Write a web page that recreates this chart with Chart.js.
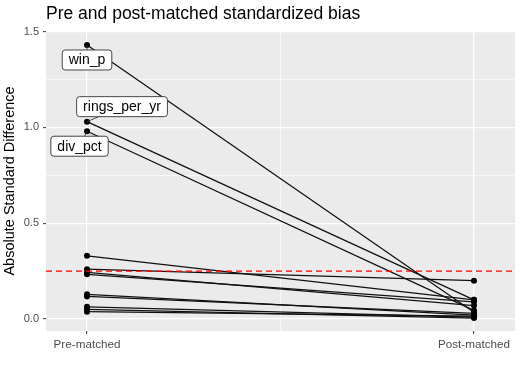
<!DOCTYPE html>
<html>
<head>
<meta charset="utf-8">
<script src="https://cdn.jsdelivr.net/npm/chart.js@4.4.1/dist/chart.umd.min.js"></script>
<style>
  html, body { margin: 0; padding: 0; background: #fff; }
  canvas { display: block; }
</style>
</head>
<body>
<canvas id="biasChart" width="520" height="367"></canvas>
<script>
// covariates, absolute standardized difference before / after matching
const variables = ["win_p", "rings_per_yr", "div_pct", "cov_4", "cov_5", "cov_6",
  "cov_7", "cov_8", "cov_9", "cov_10", "cov_11", "cov_12"];
const preMatched = [1.43, 1.03, 0.98, 0.33, 0.26, 0.243, 0.233, 0.129, 0.118, 0.064, 0.05, 0.038];
const postMatched = [0.035, 0.10, 0.045, 0.10, 0.20, 0.07, 0.09, 0.02, 0.03, 0.01, 0.005, 0.015];
const labelled = ["win_p", "rings_per_yr", "div_pct"];
const xTickLabels = ["Pre-matched", "Post-matched"];
const yTicks = [0, 0.25, 0.5, 0.75, 1, 1.25, 1.5];
const threshold = 0.25;

// where each label box sits relative to its point (px)
const labelOffset = {
  win_p: [0, 15],
  rings_per_yr: [35, -15],
  div_pct: [-7.5, 15]
};

const FONT = "'Liberation Sans', Arial, sans-serif";
const isMajor = v => Math.abs(v * 2 - Math.round(v * 2)) < 1e-9;

const panelBg = {
  id: "panelBg",
  beforeDraw(chart) {
    const { ctx, chartArea: a } = chart;
    ctx.save();
    ctx.fillStyle = "#ebebeb";
    ctx.fillRect(a.left, a.top, a.right - a.left, a.bottom - a.top);
    ctx.restore();
  }
};

const extras = {
  id: "extras",
  afterDatasetsDraw(chart) {
    const { ctx, chartArea: a, scales } = chart;
    // threshold line
    const yy = scales.y.getPixelForValue(threshold);
    ctx.save();
    ctx.strokeStyle = "#ff0000";
    ctx.lineWidth = 1.2;
    ctx.setLineDash([6, 4]);
    ctx.beginPath();
    ctx.moveTo(a.left, yy);
    ctx.lineTo(a.right, yy);
    ctx.stroke();
    ctx.setLineDash([]);

    // repelled labels
    ctx.font = "14px " + FONT;
    ctx.textAlign = "center";
    ctx.textBaseline = "middle";
    labelled.forEach(name => {
      const i = variables.indexOf(name);
      const pt = chart.getDatasetMeta(i).data[0];
      const [dx, dy] = labelOffset[name];
      const cx = pt.x + dx, cy = pt.y + dy;
      const w = ctx.measureText(name).width + 13, h = 20;
      ctx.strokeStyle = "#333";
      ctx.lineWidth = 0.9;
      ctx.beginPath();
      ctx.moveTo(pt.x, pt.y);
      ctx.lineTo(cx, cy);
      ctx.stroke();
      ctx.beginPath();
      ctx.roundRect(cx - w / 2, cy - h / 2, w, h, 3);
      ctx.fillStyle = "#fff";
      ctx.fill();
      ctx.stroke();
      ctx.fillStyle = "#000";
      ctx.fillText(name, cx, cy + 0.5);
    });
    ctx.restore();
  },
  afterDraw(chart) {
    const { ctx, chartArea: a } = chart;
    ctx.save();
    ctx.fillStyle = "#000";
    ctx.font = "17.5px " + FONT;
    ctx.textAlign = "left";
    ctx.textBaseline = "alphabetic";
    ctx.fillText("Pre and post-matched standardized bias", a.left, 19);

    ctx.font = "14.5px " + FONT;
    ctx.textAlign = "center";
    ctx.textBaseline = "middle";
    ctx.translate(10, (a.top + a.bottom) / 2);
    ctx.rotate(-Math.PI / 2);
    ctx.fillText("Absolute Standard Difference", 0, 0);
    ctx.restore();
  }
};

const datasets = variables.map((name, i) => ({
  label: name,
  data: [{ x: 0, y: preMatched[i] }, { x: 1, y: postMatched[i] }],
  showLine: true,
  borderColor: "#111",
  borderWidth: 1.25,
  pointRadius: 3,
  pointBackgroundColor: "#000",
  pointBorderWidth: 0
}));

const gridOpts = {
  color: "#fff",
  lineWidth: c => (isMajor(c.tick.value) && c.tick.value !== 0.5 || c.scale.axis === "y" && isMajor(c.tick.value)) ? 1.3 : 0.6,
  tickColor: c => (c.scale.axis === "y" ? isMajor(c.tick.value) : c.tick.value !== 0.5) ? "#333" : "rgba(0,0,0,0)",
  tickWidth: 1,
  tickLength: 3,
  drawTicks: true
};

new Chart(document.getElementById("biasChart"), {
  type: "scatter",
  data: { datasets },
  plugins: [panelBg, extras],
  options: {
    responsive: false,
    animation: false,
    devicePixelRatio: 1,
    layout: { padding: { top: 31, right: 5, left: 0, bottom: 0 } },
    plugins: { legend: { display: false }, tooltip: { enabled: false }, title: { display: false } },
    scales: {
      x: {
        type: "linear",
        min: -0.106,
        max: 1.106,
        afterBuildTicks: s => { s.ticks = [0, 0.5, 1].map(v => ({ value: v })); },
        afterFit: s => { s.height = 36; },
        border: { display: false },
        grid: gridOpts,
        ticks: {
          autoSkip: false,
          maxRotation: 0,
          padding: 4,
          color: "#4d4d4d",
          font: { family: FONT, size: 11.7 },
          callback: v => v === 0 ? xTickLabels[0] : v === 1 ? xTickLabels[1] : ""
        }
      },
      y: {
        min: -0.0625,
        max: 1.503,
        afterBuildTicks: s => { s.ticks = yTicks.map(v => ({ value: v })); },
        afterFit: s => { s.width = 46; },
        border: { display: false },
        grid: gridOpts,
        ticks: {
          autoSkip: false,
          padding: 4,
          color: "#4d4d4d",
          font: { family: FONT, size: 11 },
          callback: v => isMajor(v) ? v.toFixed(1) : ""
        }
      }
    }
  }
});
</script>
</body>
</html>
